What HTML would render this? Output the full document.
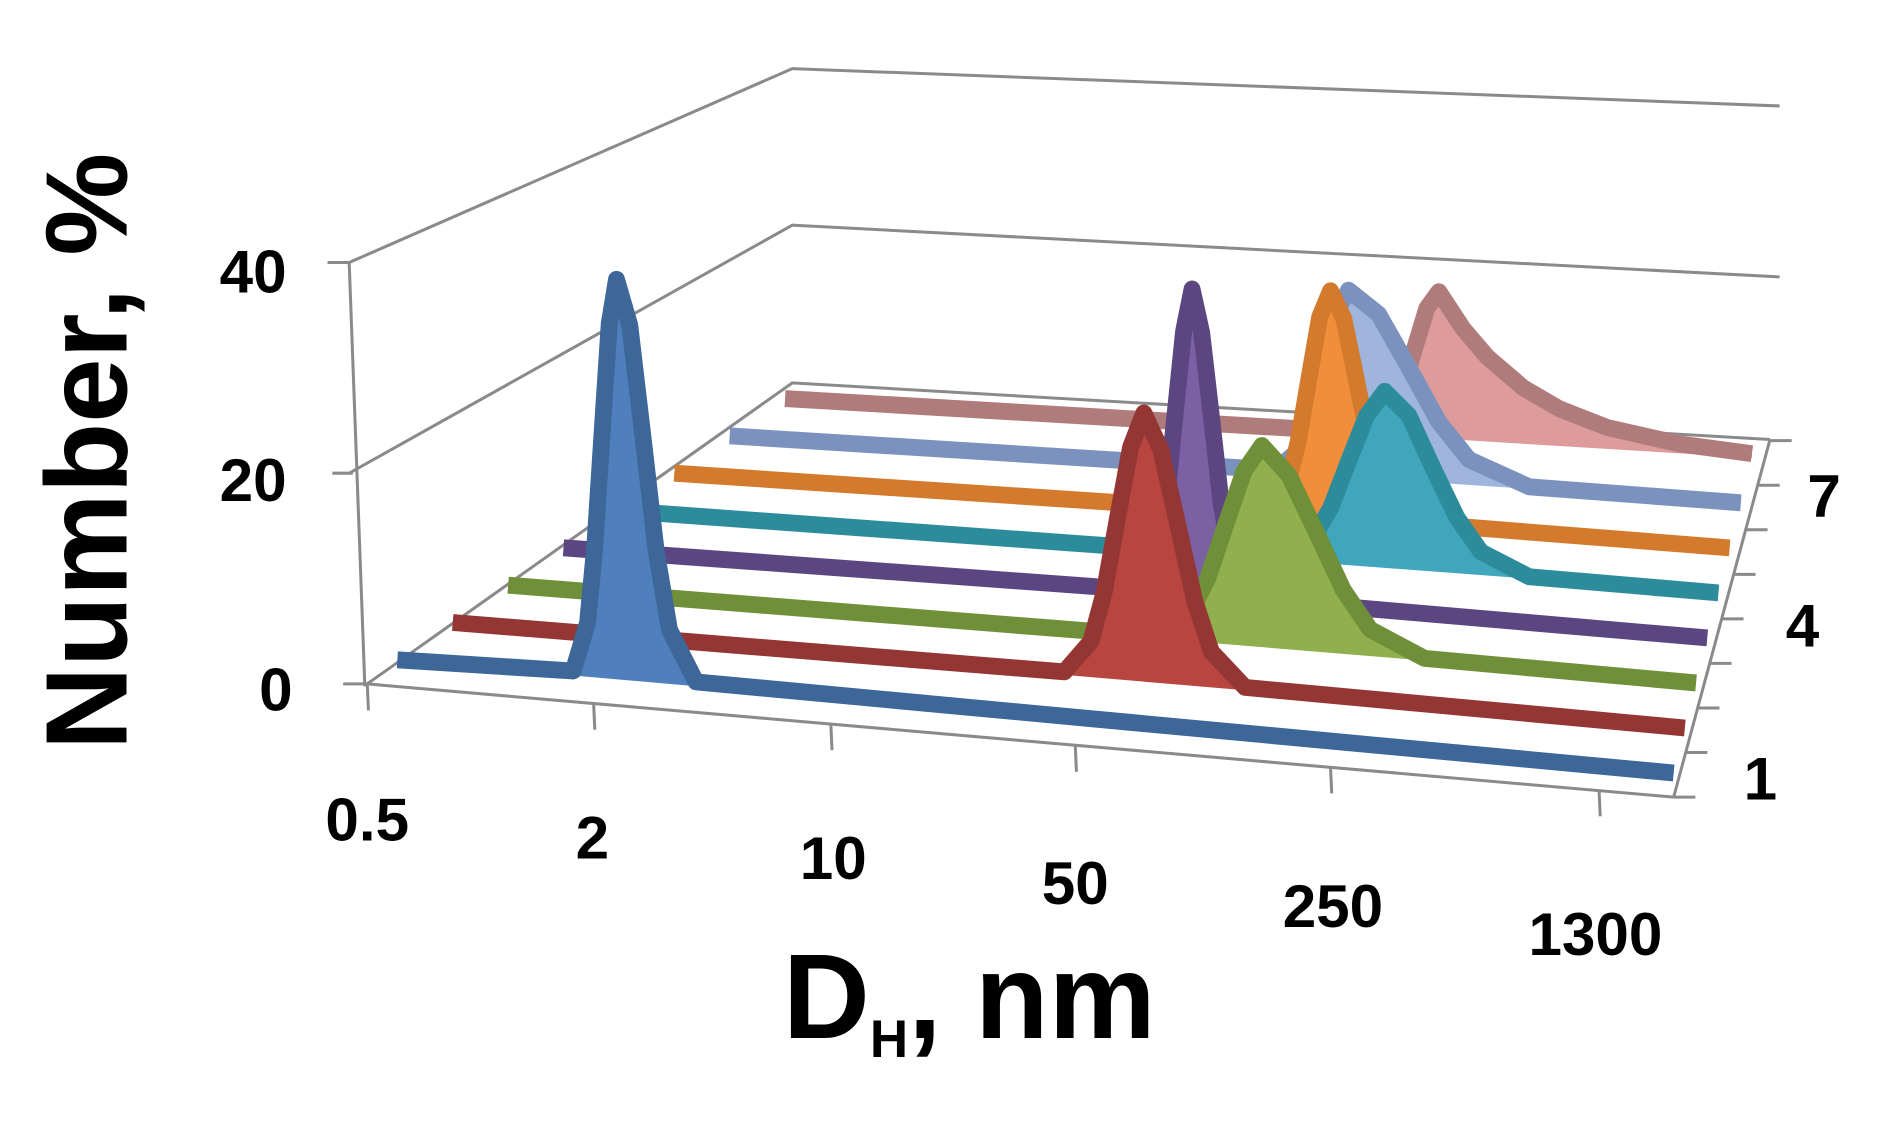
<!DOCTYPE html>
<html><head><meta charset="utf-8"><style>
html,body{margin:0;padding:0;background:#fff;}
svg{display:block;}
text{font-family:"Liberation Sans",sans-serif;font-weight:bold;fill:#000;}
</style></head><body>
<svg width="1888" height="1130" viewBox="0 0 1568 938.5" preserveAspectRatio="none" xmlns="http://www.w3.org/2000/svg">
<g stroke="#8a8a8a" stroke-width="2.5" fill="none">
<polyline points="290,218 658,57 1478,88"/>
<polyline points="290,393 658,187 1478,230"/>
<polyline points="305,568 658,318 1470,365"/>
<line x1="290" y1="218" x2="303" y2="570"/>
<line x1="305" y1="568" x2="1390" y2="662"/>
<line x1="1390" y1="662" x2="1470" y2="365"/>
<line x1="272" y1="218" x2="290" y2="218"/>
<line x1="276" y1="393" x2="293" y2="393"/>
<line x1="285" y1="568" x2="305" y2="568"/>
<line x1="305" y1="568" x2="306" y2="590"/>
<line x1="493" y1="584" x2="494" y2="606"/>
<line x1="690" y1="601" x2="691" y2="623"/>
<line x1="893" y1="619" x2="894" y2="641"/>
<line x1="1105" y1="637" x2="1106" y2="659"/>
<line x1="1328" y1="656" x2="1329" y2="678"/>
<line x1="1390" y1="662" x2="1408" y2="662"/>
<line x1="1400" y1="625" x2="1418" y2="625"/>
<line x1="1410" y1="588" x2="1428" y2="588"/>
<line x1="1420" y1="551" x2="1438" y2="551"/>
<line x1="1430" y1="514" x2="1448" y2="514"/>
<line x1="1440" y1="477" x2="1458" y2="477"/>
<line x1="1450" y1="440" x2="1468" y2="440"/>
<line x1="1460" y1="403" x2="1478" y2="403"/>
<line x1="1470" y1="366" x2="1488" y2="366"/>
</g>
<g stroke-width="14" stroke-linejoin="round">
<path fill="#de9b9b" stroke="none" d="M1135,359.3 L1155,345.3 L1165,322.7 L1175,289 L1185,256 L1195,242.3 L1215,272.8 L1235,296.3 L1265,322 L1295,339.5 L1335,355.1 L1395,368.7 L1455,376.8 L1455,380.2 L1135,360.6Z"/>
<path fill="none" stroke="#b07c7b" d="M652,331 L1135,359.3 L1155,345.3 L1165,322.7 L1175,289 L1185,256 L1195,242.3 L1215,272.8 L1235,296.3 L1265,322 L1295,339.5 L1335,355.1 L1395,368.7 L1455,376.8"/>
<path fill="#9fb5de" stroke="none" d="M1060,390.4 L1080,372.5 L1090,343.6 L1100,300.6 L1110,258.7 L1120,241 L1145,261 L1170,305.2 L1195,350.6 L1220,381.7 L1270,404.3 L1270,406 L1060,392.1Z"/>
<path fill="none" stroke="#7a92bd" d="M606,362 L1060,390.4 L1080,372.5 L1090,343.6 L1100,300.6 L1110,258.7 L1120,241 L1145,261 L1170,305.2 L1195,350.6 L1220,381.7 L1270,404.3 L1445.8,417.6"/>
<path fill="#f08e3b" stroke="none" d="M1051,425.6 L1069,403.3 L1078,367.8 L1087,315 L1096,263.3 L1105,241.5 L1116,264.7 L1127,317.8 L1138,372.1 L1149,408.9 L1171,434.1 L1171,436.2 L1051,427.7Z"/>
<path fill="none" stroke="#d47a2c" d="M560,393 L1051,425.6 L1069,403.3 L1078,367.8 L1087,315 L1096,263.3 L1105,241.5 L1116,264.7 L1127,317.8 L1138,372.1 L1149,408.9 L1171,434.1 L1436.5,455"/>
<path fill="#40a6bd" stroke="none" d="M1060,463.3 L1090,447.9 L1105,422.1 L1120,383.2 L1135,345.3 L1150,325 L1170,345 L1190,388.4 L1210,429.9 L1230,458.4 L1270,479 L1270,480.6 L1060,464.9Z"/>
<path fill="none" stroke="#2d8c9c" d="M514,424 L1060,463.3 L1090,447.9 L1105,422.1 L1120,383.2 L1135,345.3 L1150,325 L1170,345 L1190,388.4 L1210,429.9 L1230,458.4 L1270,479 L1427.2,492.4"/>
<path fill="#7b60a3" stroke="none" d="M948,490 L962,460.1 L969,413.1 L976,343.2 L983,275 L990,240 L998,276.2 L1006,345.5 L1014,416.7 L1022,464.8 L1038,497.1 L1038,499.9 L948,492.8Z"/>
<path fill="none" stroke="#5c4682" d="M468,455 L948,490 L962,460.1 L969,413.1 L976,343.2 L983,275 L990,240 L998,276.2 L1006,345.5 L1014,416.7 L1022,464.8 L1038,497.1 L1417.9,529.8"/>
<path fill="#8fb04d" stroke="none" d="M958,528.3 L988,510.5 L1003,480.5 L1018,435.6 L1033,391.7 L1048,370 L1070.5,394.8 L1093,441.7 L1115.5,489.8 L1138,522.8 L1183,546.8 L1183,548.6 L958,530.1Z"/>
<path fill="none" stroke="#6f9038" d="M422,486 L958,528.3 L988,510.5 L1003,480.5 L1018,435.6 L1033,391.7 L1048,370 L1070.5,394.8 L1093,441.7 L1115.5,489.8 L1138,522.8 L1183,546.8 L1408.6,567.2"/>
<path fill="#b8453f" stroke="none" d="M884,558 L906,532.7 L917,491.8 L928,430.8 L939,371.2 L950,343 L964,373.3 L978,435 L992,498.2 L1006,541.2 L1034,570.9 L1034,573.3 L884,560.5Z"/>
<path fill="none" stroke="#943634" d="M376,517 L884,558 L906,532.7 L917,491.8 L928,430.8 L939,371.2 L950,343 L964,373.3 L978,435 L992,498.2 L1006,541.2 L1034,570.9 L1399.3,604.6"/>
<path fill="#4f7fbc" stroke="none" d="M476,557.3 L488,517 L494,453.5 L500,360 L506,268.6 L512,232 L523,270 L534,363 L545,458 L556,523 L578,566.3 L578,570 L476,561Z"/>
<path fill="none" stroke="#3d6699" d="M330,548 L476,557.3 L488,517 L494,453.5 L500,360 L506,268.6 L512,232 L523,270 L534,363 L545,458 L556,523 L578,566.3 L1390,642"/>
</g>
<g font-size="50">
<text x="238" y="243" text-anchor="end">40</text>
<text x="238" y="416" text-anchor="end">20</text>
<text x="243" y="590" text-anchor="end">0</text>
<text x="305" y="698" text-anchor="middle">0.5</text>
<text x="492" y="713" text-anchor="middle">2</text>
<text x="692" y="730" text-anchor="middle">10</text>
<text x="893" y="751" text-anchor="middle">50</text>
<text x="1107" y="770" text-anchor="middle">250</text>
<text x="1325" y="793" text-anchor="middle">1300</text>
<text x="1462" y="664" text-anchor="middle">1</text>
<text x="1497" y="537" text-anchor="middle">4</text>
<text x="1515" y="429" text-anchor="middle">7</text>
</g>
<text font-size="96" transform="translate(105,375) rotate(-90)" text-anchor="middle">Number, %</text>
<text x="805" y="862" font-size="100" text-anchor="middle">D<tspan font-size="44" dy="16">H</tspan><tspan dy="-16">, nm</tspan></text>
</svg>
</body></html>
